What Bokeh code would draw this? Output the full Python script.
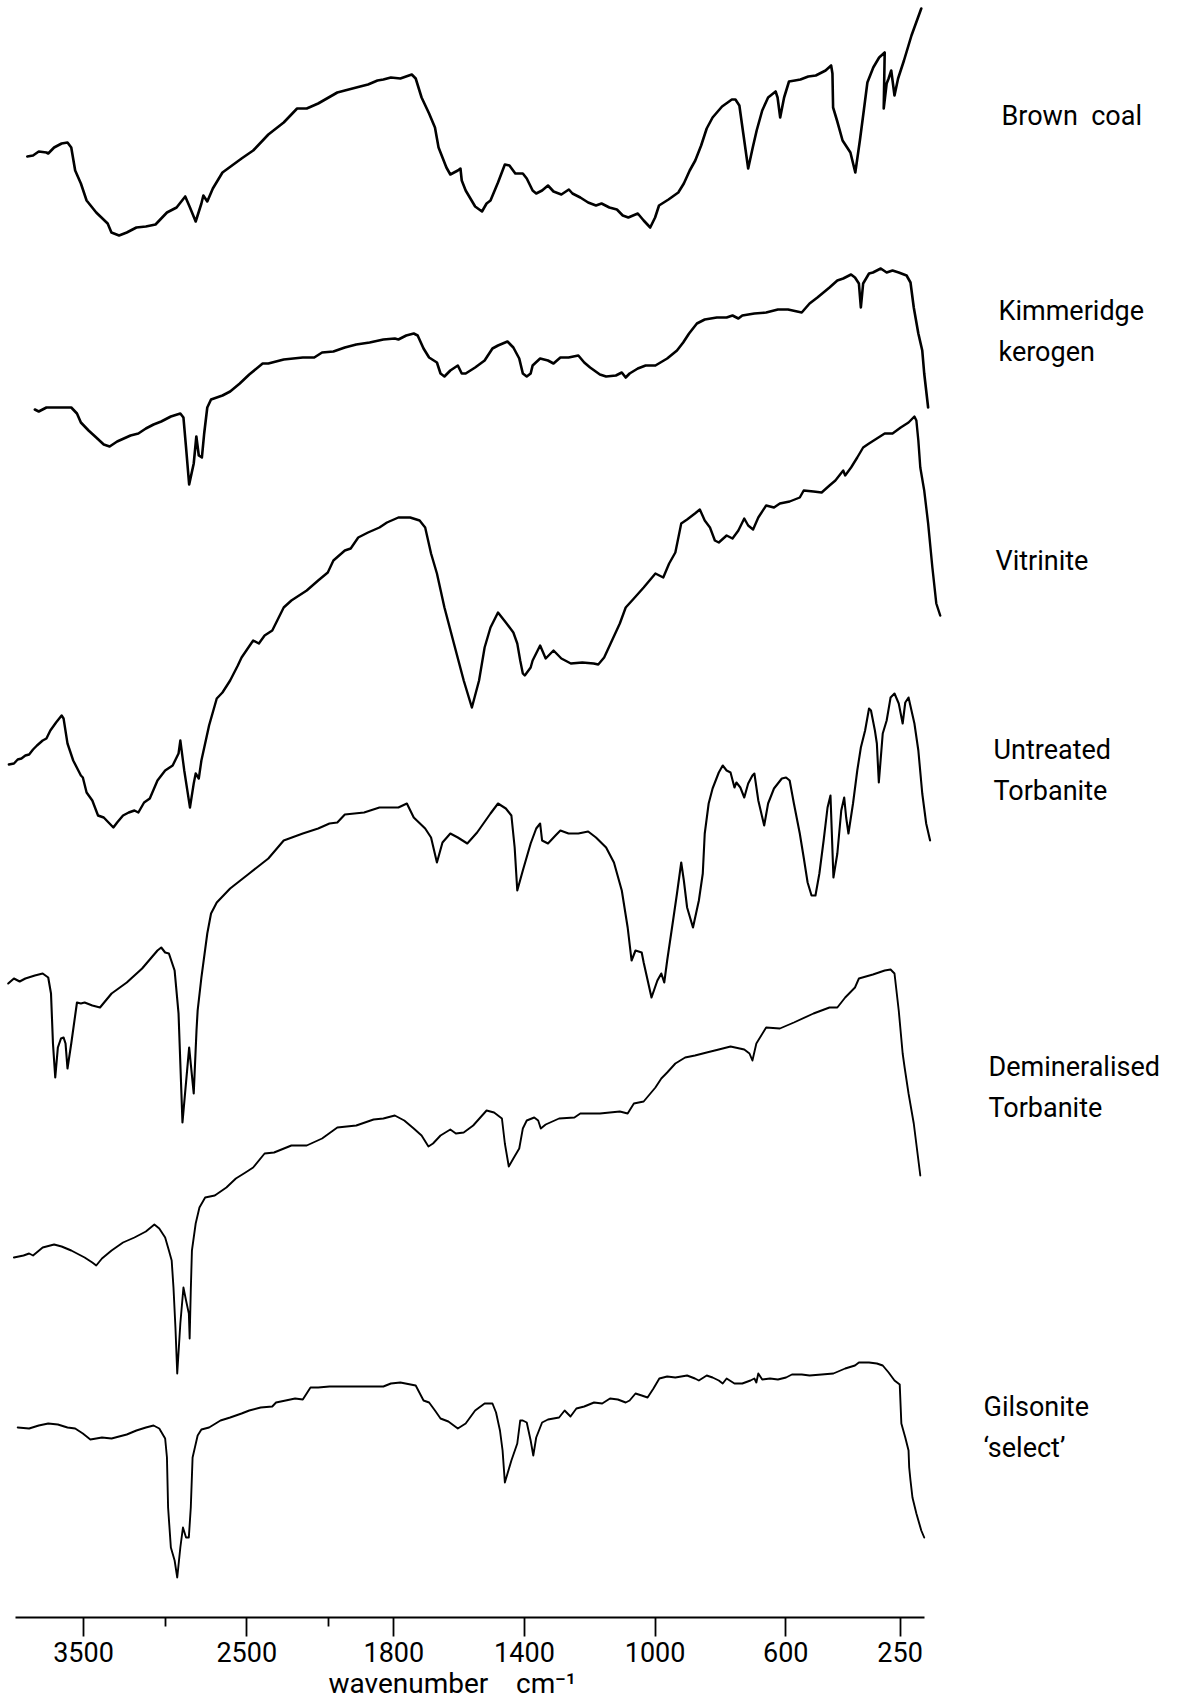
import numpy as np
from bokeh.plotting import figure
from bokeh.models import Range1d, FixedTicker, Title
from bokeh.embed import file_html
from bokeh.resources import INLINE
from bokeh.core.properties import value

# ---------------- data ----------------
tick_wavenumbers = [3500, 2500, 1800, 1400, 1000, 600, 250]
minor_tick_wavenumbers = [3000, 2000]
sample_names = ["Brown\u00a0\u00a0coal", "Kimmeridge\nkerogen", "Vitrinite",
                "Untreated\nTorbanite", "Demineralised\nTorbanite", "Gilsonite\n\u2018select\u2019"]

brown_coal_wn = [3844,3809,3774,3727,3716,3680,3634,3598,3575,3551,
                 3516,3481,3422,3352,3329,3282,3235,3176,3118,3059,
                 2989,2930,2877,2848,2813,2778,2766,2742,2708,2649,
                 2532,2461,2368,2274,2192,2133,2063,1973,1950,1903,
                 1879,1850,1832,1809,1780,1745,1733,1715,1692,1674,
                 1663,1639,1627,1604,1596,1592,1580,1551,1530,1516,
                 1504,1481,1460,1446,1428,1405,1393,1375,1364,1346,
                 1328,1311,1287,1264,1253,1229,1205,1181,1164,1140,
                 1117,1099,1082,1053,1035,1015,1000,988,959,929,
                 912,894,877,859,842,824,795,765,754,742,
                 730,715,701,689,672,654,631,625,617,605,
                 590,572,555,531,508,478,461,457,455,443,
                 426,402,387,373,361,350,332,314,297,300,
                 291,285,277,267,256,238,215,185]
brown_coal_t = [84,85,89,88,87,93,97,98,93,70,
                57,40,28,17,8,5,8,13,14,16,
                28,33,44,33,19,37,45,39,52,68,
                82,90,106,118,132,132,137,148,150,154,
                156,160,161,163,162,166,162,143,127,113,
                93,73,66,70,72,60,50,34,29,37,
                40,58,76,75,67,67,62,50,47,50,
                55,49,46,51,47,43,38,35,37,33,
                31,25,23,27,20,13,23,35,41,48,
                57,70,80,95,112,123,134,141,141,135,
                107,72,93,110,130,143,149,143,123,143,
                159,160,161,164,165,170,175,167,133,120,
                100,88,68,100,130,158,173,183,188,132,
                157,162,170,145,162,180,205,232]

kimmeridge_wn = [3798,3774,3727,3657,3575,3540,3516,3469,3422,3376,
                 3340,3294,3212,3164,3118,3071,3024,2965,2907,2888,
                 2872,2853,2825,2809,2794,2775,2761,2742,2719,2649,
                 2602,2543,2485,2403,2368,2274,2157,2087,2039,1985,
                 1950,1915,1874,1832,1797,1786,1762,1739,1727,1709,
                 1692,1668,1657,1645,1627,1604,1592,1580,1551,1522,
                 1498,1481,1452,1434,1416,1405,1393,1381,1375,1352,
                 1328,1311,
                 1290,1265,1235,1217,1199,1169,1150,1120,1102,1090,
                 1078,1053,1029,999,963,933,914,896,872,848,
                 811,781,763,745,733,696,660,624,593,551,
                 527,503,466,442,424,400,388,376,370,363,
                 345,333,309,291,273,254,230,218,208,194,
                 182,176,164]
kimmeridge_t = [91,89,93,93,93,87,78,70,63,56,
                54,59,65,67,72,76,79,84,87,83,
                53,16,37,64,45,43,67,93,101,105,
                109,117,126,137,137,141,143,143,148,149,
                153,156,158,161,162,161,165,167,165,152,
                143,138,127,124,130,135,127,127,133,140,
                152,155,159,153,142,127,124,127,135,142,
                140,137,
                143,143,145,138,133,126,124,125,128,123,
                127,132,135,135,142,150,158,167,177,181,
                183,183,185,182,185,187,188,191,191,188,
                197,203,213,220,222,226,223,217,193,217,
                227,228,232,228,230,228,225,218,193,167,
                150,127,93]

vitrinite_wn = [3957,3926,3903,3880,3856,3833,3809,3785,3750,3727,
                3703,3668,3634,3622,3598,3563,3516,3504,3481,3446,
                3411,3376,3317,3294,3258,3223,3188,3164,3129,3094,
                3047,3000,2954,2918,2907,2883,2848,2825,2813,2794,
                2778,2731,2684,2649,2602,2555,2532,2461,2426,2391,
                2344,2274,2227,2133,2063,2004,1985,1950,1932,1909,
                1879,1844,1821,1786,1750,1721,1704,1686,1668,1645,
                1616,1586,1561,1539,1522,1504,1481,1457,1434,1422,
                1413,1405,1399,1381,1375,1352,1335,1311,1287,1258,
                1223,1188,1174,1156,1132,1108,1090,1065,1035,999,
                975,957,938,920,902,878,863,848,832,817,
                805,781,763,745,727,715,700,684,660,636,
                618,588,557,545,515,490,466,448,424,418,
                400,381,363,345,321,297,273,248,224,206,
                200,194,188,176,164,151,139,127]
vitrinite_t = [66,67,71,72,75,76,81,85,90,92,
               100,108,115,112,87,70,55,53,38,30,
               15,13,3,8,15,18,20,18,28,32,
               50,60,65,77,90,60,23,47,57,52,
               70,105,132,138,150,165,173,190,187,195,
               200,223,230,240,250,258,270,280,282,293,
               298,303,308,313,313,310,303,277,257,223,
               187,150,123,150,183,203,218,208,198,187,
               170,157,155,163,170,185,172,180,172,167,
               168,167,166,173,190,207,223,232,243,257,
               253,267,278,307,311,317,321,310,303,290,
               288,295,292,300,312,305,301,313,325,323,
               327,329,333,340,339,338,345,350,360,355,
               363,373,383,387,392,397,397,403,408,414,
               410,390,363,340,307,263,227,215]

untreated_wn = [3961,3926,3891,3856,3798,3750,3716,3699,3687,3673,
                3657,3638,3622,3610,3598,3575,3540,3516,3493,3446,
                3399,3328,3235,3141,3047,3024,3000,2977,2942,2918,
                2894,2853,2825,2808,2801,2778,2742,2719,2684,2602,
                2485,2368,2274,2157,2063,1997,1973,1950,1891,1844,
                1786,1760,1739,1704,1686,1668,1651,1627,1604,1575,
                1545,1504,1481,1457,1440,1430,1422,1405,1381,1364,
                1352,1346,1328,1305,1290,1265,1235,1205,1181,1150,
                1126,1102,1084,1072,1060,1041,1035,1011,993,981,
                972,963,945,933,920,912,902,884,866,854,
                848,836,824,805,793,781,769,757,751,739,
                727,715,702,696,684,666,654,636,612,599,
                588,575,557,545,533,521,509,497,484,472,
                463,454,442,430,421,415,408,394,381,370,
                357,345,339,327,321,315,303,291,279,267,
                254,242,234,224,206,194,182,170,158]
untreated_t = [147,152,149,152,155,157,153,137,87,53,
               83,92,93,87,62,87,128,127,128,125,
               123,137,148,162,180,183,178,177,160,117,
               8,83,37,100,120,153,197,217,228,242,
               257,272,290,297,302,307,308,316,318,323,
               323,327,313,302,293,268,288,297,293,287,
               298,317,327,322,315,283,240,260,287,302,
               307,290,287,295,300,297,297,299,293,283,
               268,240,203,170,180,178,168,133,150,157,
               148,170,210,237,268,250,223,203,230,257,
               297,327,342,358,365,360,358,343,348,343,
               333,347,355,357,330,305,327,342,352,353,
               350,327,297,273,248,235,235,257,290,323,
               335,253,277,320,333,313,297,327,360,383,
               400,422,420,400,387,348,397,410,433,437,
               427,407,428,433,407,380,337,307,290]

demineralised_wn = [3926,3867,3833,3809,3750,3680,3634,3575,3493,3446,
                    3422,3387,3328,3258,3188,3118,3066,3036,3000,2977,
                    2960,2949,2937,2926,2907,2888,2872,2855,2850,2843,
                    2836,2813,2790,2755,2696,2625,2567,2508,2461,2391,
                    2333,2227,2133,2039,1973,1915,1862,1832,1797,1768,
                    1739,1715,1694,1680,1657,1627,1610,1586,1557,1516,
                    1493,1469,1460,1448,1434,1416,1405,1393,1370,1358,
                    1350,1335,1294,1247,1229,1169,1108,1084,1065,1035,
                    999,981,963,938,908,878,842,805,769,727,
                    711,702,690,660,618,575,515,466,442,418,
                    388,376,333,297,279,267,254,242,236,224,
                    208,188]
demineralised_t = [143,145,147,145,153,156,154,150,143,138,
                   135,142,150,158,163,169,176,172,163,150,
                   140,113,73,27,77,113,100,87,62,110,
                   150,177,193,203,205,213,222,228,233,247,
                   248,255,255,262,273,275,281,282,285,280,
                   272,265,254,257,265,271,267,268,275,290,
                   288,282,257,234,242,252,272,280,283,280,
                   272,276,282,283,287,287,289,287,297,299,
                   313,322,328,337,343,345,348,351,354,351,
                   347,340,357,373,372,378,387,393,393,403,
                   413,422,426,430,431,427,390,347,333,307,
                   277,225]

gilsonite_wn = [3903,3833,3774,3716,3657,3598,3551,3504,3458,3422,
                3387,3328,3282,3235,3176,3118,3071,3036,3000,2989,
                2982,2965,2942,2926,2907,2891,2872,2855,2843,2832,
                2801,2778,2731,2661,2602,2532,2485,2415,2344,2321,
                2262,2204,2157,2110,2063,1997,1950,1891,1832,1809,
                1780,1733,1709,1692,1674,1657,1633,1604,1580,1551,
                1522,1498,1487,1475,1467,1460,1440,1422,1413,1405,
                1393,1381,1373,1364,1346,1328,1294,1277,1259,1241,
                1217,1187,1162,1138,1114,1090,1078,1060,1041,1023,
                1005,987,963,938,902,878,866,842,824,805,
                793,781,757,733,708,696,690,684,672,648,
                624,599,581,551,527,490,454,418,388,376,
                345,321,303,285,267,251,246,234,224,222,
                218,212,200,185,176]
gilsonite_t = [173,172,175,177,176,173,172,167,161,162,
               163,162,164,166,170,173,175,172,162,143,
               93,53,40,23,53,73,63,63,93,143,
               165,171,173,180,183,187,190,193,194,198,
               200,202,201,213,213,214,214,214,214,217,
               218,215,200,198,190,182,179,172,177,190,
               197,197,188,170,150,118,140,157,180,180,
               178,160,145,163,178,181,183,190,184,192,
               194,198,197,202,201,198,200,207,205,203,
               212,222,224,223,225,222,220,225,223,220,
               217,222,217,217,220,222,218,227,221,222,
               221,223,226,226,225,226,227,232,235,238,
               238,237,235,228,220,216,177,163,150,133,
               120,103,87,70,63]

# vertical offset of each trace (stacked spectra, arbitrary transmittance units)
trace_offsets = [1466, 1206, 876, 576, 306, 106]

# ---------------- layout ----------------
def xpos(w):
    """Spectrometer abscissa: scale change at 2000 cm-1 (two linear segments)."""
    w = float(w)
    if w >= 2000:
        return round(83.0 + (3500.0 - w) * 0.1633, 3)
    return round(328.0 + (2000.0 - w) * 0.3266, 3)

spectra = [(brown_coal_wn, brown_coal_t), (kimmeridge_wn, kimmeridge_t),
           (vitrinite_wn, vitrinite_t), (untreated_wn, untreated_t),
           (demineralised_wn, demineralised_t), (gilsonite_wn, gilsonite_t)]
line_widths = [2.6, 2.6, 2.4, 2.1, 1.9, 1.9]

label_x = [1001, 998, 995, 993, 988, 983]
label_y = [1591, 1375, 1146, 936, 619, 279]

FONT = "Roboto"

p = figure(width=1180, height=1706, x_range=Range1d(0, 1180), y_range=Range1d(89, 1706),
           output_backend="svg", toolbar_location=None, y_axis_location=None,
           min_border_left=0, min_border_right=0, min_border_top=0, min_border_bottom=89)
p.grid.visible = False
p.outline_line_color = None
p.background_fill_color = "white"
p.border_fill_color = "white"

for (wn, t), off, lw in zip(spectra, trace_offsets, line_widths):
    xs = [xpos(w) for w in wn]
    ys = [off + v for v in t]
    p.line(xs, ys, line_color="black", line_width=lw, line_join="round", line_cap="round")

p.text(x=label_x, y=label_y, text=sample_names, text_font=value(FONT),
       text_font_size="27px", text_color="black", text_align="left",
       text_baseline="middle", text_line_height=1.28)

ax = p.xaxis[0]
ax.ticker = FixedTicker(ticks=[xpos(w) for w in tick_wavenumbers],
                        minor_ticks=[xpos(w) for w in minor_tick_wavenumbers])
ax.major_label_overrides = {xpos(w): str(w) for w in tick_wavenumbers}
ax.bounds = (xpos(3916), xpos(175))
ax.axis_line_color = "black"
ax.axis_line_width = 1.8
ax.major_tick_line_color = "black"
ax.major_tick_line_width = 1.8
ax.major_tick_in = 0
ax.major_tick_out = 19
ax.minor_tick_line_color = "black"
ax.minor_tick_line_width = 1.8
ax.minor_tick_in = 0
ax.minor_tick_out = 9
ax.major_label_standoff = 5
ax.major_label_text_font = FONT
ax.major_label_text_font_size = "27px"
ax.major_label_text_color = "black"

p.add_layout(Title(text="wavenumber\u00a0\u00a0\u00a0\u00a0cm\u207b\u00b9",
                   align="left", offset=328, standoff=0,
                   text_font=FONT, text_font_size="28px", text_font_style="normal",
                   text_color="black"), "below")

open("out.html", "w").write(file_html(p, INLINE))
